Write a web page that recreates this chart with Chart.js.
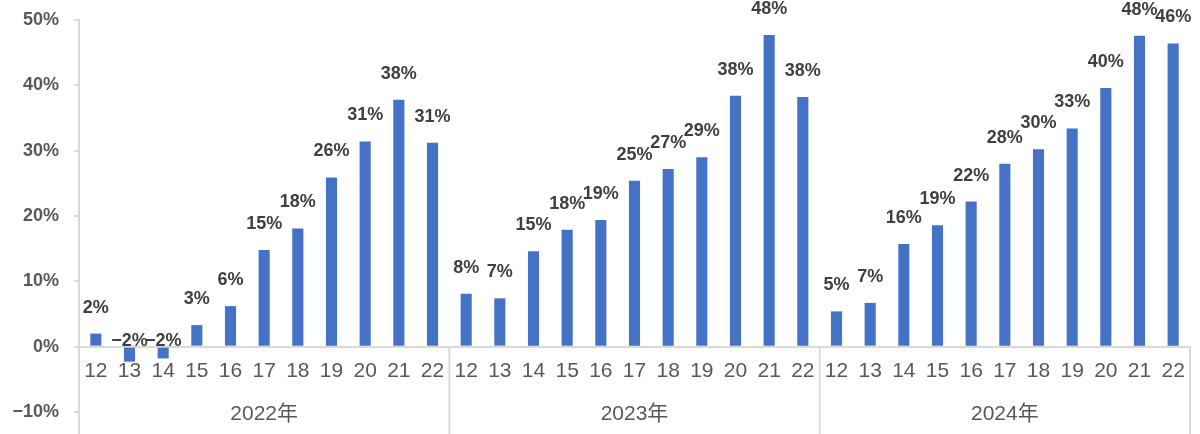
<!DOCTYPE html>
<html>
<head>
<meta charset="utf-8">
<script src="https://cdn.jsdelivr.net/npm/chart.js@4/dist/chart.umd.min.js"></script>
<style>
  html, body { margin: 0; padding: 0; background: #ffffff; }
  #wrap { width: 1200px; height: 434px; position: relative; }
</style>
</head>
<body>
<div id="wrap"><canvas id="c"></canvas></div>
<script>
const years = ['2022年', '2023年', '2024年'];
const days = ['12', '13', '14', '15', '16', '17', '18', '19', '20', '21', '22'];
const values2022 = [2.0, -2.3, -1.8, 3.3, 6.2, 14.8, 18.1, 25.9, 31.4, 37.8, 31.2];
const values2023 = [8.1, 7.4, 14.6, 17.9, 19.4, 25.4, 27.2, 29.0, 38.4, 47.7, 38.2];
const values2024 = [5.4, 6.7, 15.7, 18.6, 22.2, 28.0, 30.2, 33.4, 39.6, 47.6, 46.4];
const yTicks = [-10, 0, 10, 20, 30, 40, 50];

const seriesByYear = [values2022, values2023, values2024];
const labels = [];
const data = [];
years.forEach((y, i) => {
  days.forEach((d, j) => {
    labels.push(d);
    data.push(seriesByYear[i][j]);
  });
});

const FONT = "'Liberation Sans', 'Noto Sans CJK SC', sans-serif";
const AXIS_COLOR = '#d9d9d9';
const fmtPct = (v) => (v < 0 ? '\u2212' + Math.abs(v) : String(v)) + '%';

const decorPlugin = {
  id: 'decor',
  afterDraw(chart) {
    const ctx = chart.ctx;
    const xs = chart.scales.x;
    const ys = chart.scales.y;
    const area = chart.chartArea;
    const zeroY = ys.getPixelForValue(0);
    const n = days.length;
    ctx.save();
    ctx.strokeStyle = AXIS_COLOR;
    ctx.lineWidth = 2;
    years.forEach((y, i) => {
      const xr = i === years.length - 1 ? area.right : xs.getPixelForValue(i * n + n - 0.5);
      ctx.beginPath();
      ctx.moveTo(xr, zeroY);
      ctx.lineTo(xr, chart.height);
      ctx.stroke();
    });
    ctx.fillStyle = '#595959';
    ctx.font = '21px ' + FONT;
    ctx.textAlign = 'center';
    ctx.textBaseline = 'middle';
    years.forEach((y, i) => {
      const x0 = xs.getPixelForValue(i * n);
      const x1 = xs.getPixelForValue(i * n + n - 1);
      ctx.fillText(y, (x0 + x1) / 2, ys.getPixelForValue(-10) + 2);
    });
    ctx.restore();
  },
  afterDatasetsDraw(chart) {
    const ctx = chart.ctx;
    const ys = chart.scales.y;
    const zeroY = ys.getPixelForValue(0);
    const meta = chart.getDatasetMeta(0);
    ctx.save();
    ctx.fillStyle = '#404040';
    ctx.font = 'bold 18px ' + FONT;
    ctx.textAlign = 'center';
    ctx.textBaseline = 'middle';
    meta.data.forEach((bar, i) => {
      const v = data[i];
      const txt = fmtPct(Math.round(v));
      const y = v >= 0 ? bar.y - 26 : zeroY - 6;
      ctx.fillText(txt, bar.x, y);
    });
    ctx.restore();
  }
};

new Chart(document.getElementById('c'), {
  type: 'bar',
  data: {
    labels: labels,
    datasets: [{
      data: data,
      backgroundColor: '#4472C4',
      borderWidth: 0,
      barPercentage: 0.33,
      categoryPercentage: 1.0
    }]
  },
  plugins: [decorPlugin],
  options: {
    responsive: true,
    maintainAspectRatio: false,
    animation: false,
    devicePixelRatio: 1,
    layout: { padding: { top: 20, right: 10, bottom: 0, left: 0 } },
    plugins: { legend: { display: false }, tooltip: { enabled: false } },
    scales: {
      x: {
        position: { y: 0 },
        afterFit(scale) { scale.height = 0; scale.paddingLeft = 0; scale.paddingRight = 0; },
        grid: { display: true, drawOnChartArea: false, drawTicks: false },
        border: { display: true, color: AXIS_COLOR, width: 2 },
        ticks: {
          color: '#595959',
          font: { family: FONT, size: 21 },
          padding: 12,
          maxRotation: 0,
          autoSkip: false
        }
      },
      y: {
        min: -13.37,
        max: 50,
        afterBuildTicks(scale) {
          scale.ticks = yTicks.map(v => ({ value: v }));
        },
        afterFit(scale) { scale.width = 79; scale.paddingTop = 0; scale.paddingBottom = 0; },
        grid: { display: true, drawOnChartArea: false, drawTicks: true, tickLength: 5, color: AXIS_COLOR, lineWidth: 2 },
        border: { display: true, color: AXIS_COLOR, width: 2 },
        ticks: {
          color: '#595959',
          font: { family: FONT, size: 18, weight: 'bold' },
          padding: 15,
          callback: (v) => fmtPct(v)
        }
      }
    }
  }
});
</script>
</body>
</html>
